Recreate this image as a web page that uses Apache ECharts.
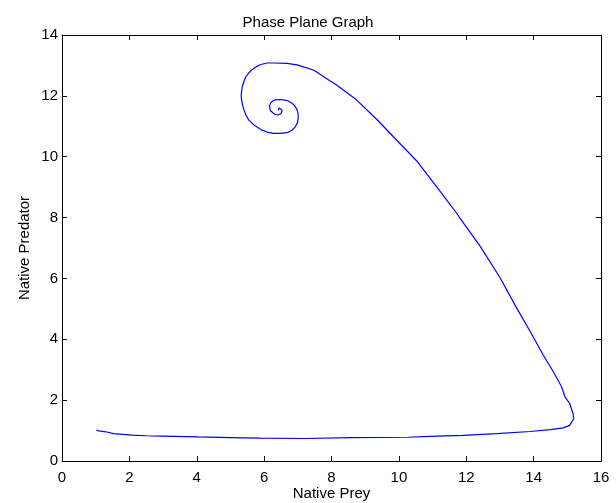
<!DOCTYPE html>
<html>
<head>
<meta charset="utf-8">
<title>Phase Plane Graph</title>
<script src="https://cdn.jsdelivr.net/npm/echarts@6/dist/echarts.min.js"></script>
<style>
    html, body { margin: 0; padding: 0; background: #fff; }
    #chart { width: 616px; height: 503px; }
</style>
</head>
<body>
<div id="chart"></div>
<script>
    // trajectory, in time order
    var preyValues = [
        1.02, 1.09, 1.30, 1.53, 2.07, 2.50, 2.95, 4.04, 5.00, 5.90, 7.20, 8.60, 10.26, 10.92, 11.90,
        12.90, 13.89, 14.50, 14.88, 15.07, 15.19, 15.17, 15.07, 14.93, 14.83, 14.58, 14.28, 13.89,
        13.49, 13.00, 12.40, 11.86, 11.71, 11.22, 10.53, 9.93, 9.34, 8.74, 8.15, 7.95, 7.48,
        6.98, 6.68, 6.29, 6.09, 5.90, 5.79, 5.65, 5.54, 5.45, 5.40, 5.35, 5.33, 5.32, 5.33, 5.36,
        5.40, 5.46, 5.54, 5.70, 5.89, 6.08, 6.29, 6.50, 6.68, 6.83, 6.93, 6.99, 7.01, 7.01, 6.98,
        6.92, 6.83, 6.70, 6.58, 6.46, 6.34, 6.25, 6.19, 6.16, 6.17, 6.19, 6.24, 6.32, 6.41, 6.49,
        6.53, 6.52, 6.49, 6.44, 6.39, 6.42
    ];
    var predatorValues = [
        1.02, 0.99, 0.96, 0.90, 0.85, 0.83, 0.82, 0.79, 0.77, 0.75, 0.74, 0.77, 0.78, 0.81, 0.84,
        0.90, 0.97, 1.03, 1.09, 1.17, 1.39, 1.56, 1.89, 2.11, 2.44, 2.94, 3.49, 4.27,
        5.04, 6.03, 7.08, 7.91, 8.15, 8.87, 9.86, 10.55, 11.23, 11.87, 12.36, 12.50, 12.84,
        13.02, 13.07, 13.08, 13.08, 13.03, 12.97, 12.87, 12.75, 12.62, 12.47, 12.30, 12.14, 12.00, 11.87, 11.70,
        11.54, 11.37, 11.21, 11.04, 10.90, 10.81, 10.77, 10.77, 10.79, 10.87, 10.99, 11.12, 11.26, 11.40, 11.54,
        11.66, 11.76, 11.84, 11.87, 11.88, 11.87, 11.83, 11.76, 11.67, 11.59, 11.51, 11.45, 11.39, 11.37, 11.41,
        11.48, 11.55, 11.59, 11.60, 11.56, 11.52
    ];
    var xTicks = [0, 16, 2];   // min, max, step
    var yTicks = [0, 14, 2];

    var points = []
    preyValues.forEach(function (v, i) {
        points.push([v, predatorValues[i]])
    })

    var font = 'Liberation Sans, Arial, sans-serif'
    var lineStyle = { color: '#000', width: 1 }

    // box axes (top / right) only carry inner ticks, like the reference
    function makeAxis(pos, ticks, name, showLabel) {
        return {
            type: 'value',
            position: pos,
            min: ticks[0],
            max: ticks[1],
            interval: ticks[2],
            name: name,
            nameLocation: 'middle',
            nameGap: pos === 'left' ? 30 : 25,
            nameMoveOverlap: false,
            nameTextStyle: { color: '#000', fontSize: 15, fontFamily: font },
            axisLine: { show: true, onZero: false, lineStyle: lineStyle },
            axisTick: { show: true, inside: true, length: 5, lineStyle: lineStyle },
            axisLabel: {
                show: showLabel, color: '#000', fontSize: 15, fontFamily: font,
                margin: pos === 'left' ? 4 : 9
            },
            splitLine: { show: false }
        }
    }

    var option = {
        animation: false,
        backgroundColor: '#fff',
        title: {
            text: 'Phase Plane Graph',
            left: 'center',
            top: 10,
            textStyle: { color: '#000', fontSize: 15, fontWeight: 'normal', fontFamily: font }
        },
        grid: { left: 62, right: 15, top: 35, bottom: 42, containLabel: false, outerBoundsMode: 'none' },
        xAxis: [
            makeAxis('bottom', xTicks, 'Native Prey', true),
            makeAxis('top', xTicks, '', false)
        ],
        yAxis: [
            makeAxis('left', yTicks, 'Native Predator', true),
            makeAxis('right', yTicks, '', false)
        ],
        series: [{
            type: 'line',
            data: points,
            showSymbol: false,
            smooth: false,
            lineStyle: { color: '#0000ff', width: 1.2 }
        }]
    }

    var chart = echarts.init(document.getElementById('chart'))
    chart.setOption(option)
</script>
</body>
</html>
